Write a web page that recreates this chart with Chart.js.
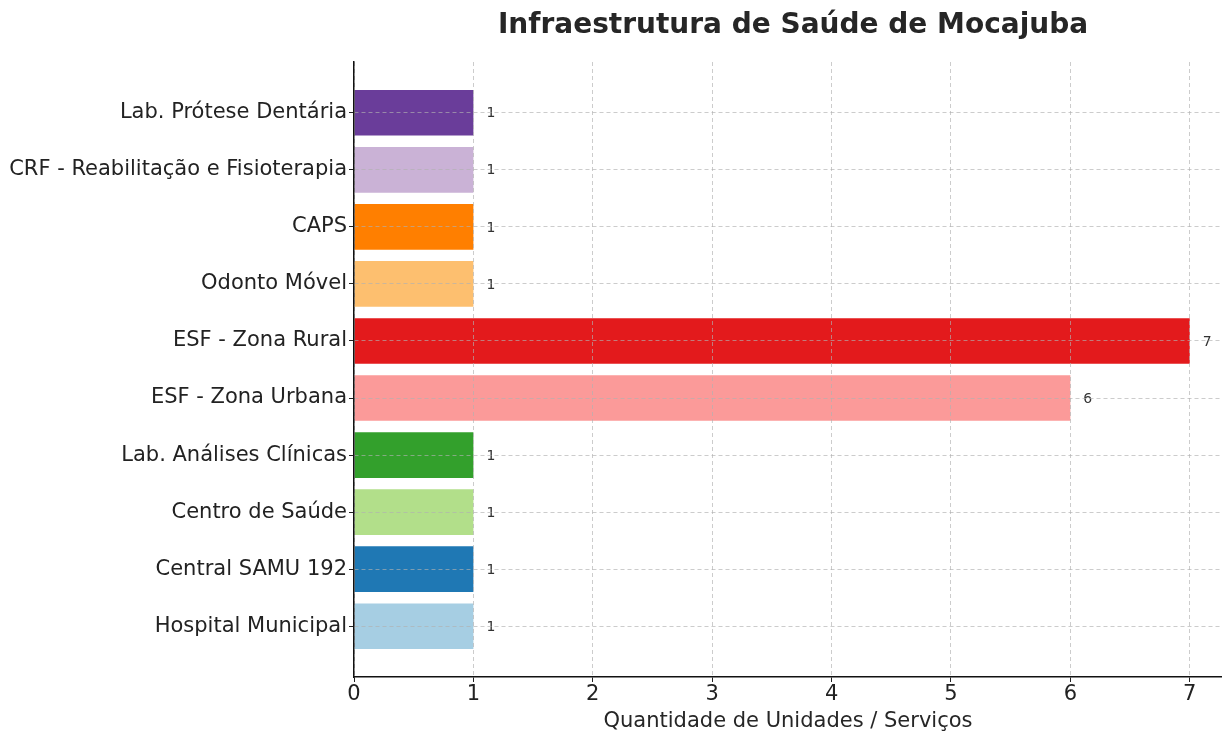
<!DOCTYPE html>
<html lang="pt">
<head>
  <meta charset="UTF-8" />
  <title>Infraestrutura de Saúde de Mocajuba</title>
  <script src="https://cdn.jsdelivr.net/npm/chart.js"></script>
  <style>
    body { margin: 0; background: #fff; }
    #wrap { width: 1222px; height: 731px; }
  </style>
</head>
<body>
<div id="wrap"><canvas id="barChart" width="1222" height="731"></canvas></div>
<script>
// dados (de cima para baixo)
const categories = [
  "Lab. Prótese Dentária",
  "CRF - Reabilitação e Fisioterapia",
  "CAPS",
  "Odonto Móvel",
  "ESF - Zona Rural",
  "ESF - Zona Urbana",
  "Lab. Análises Clínicas",
  "Centro de Saúde",
  "Central SAMU 192",
  "Hospital Municipal"
];
const values = [1, 1, 1, 1, 7, 6, 1, 1, 1, 1];
const barColors = ["#6a3d9a", "#cab2d6", "#ff7f00", "#fdbf6f", "#e31a1c", "#fb9a99", "#33a02c", "#b2df8a", "#1f78b4", "#a6cee3"];
const xTicks = [0, 1, 2, 3, 4, 5, 6, 7];
const chartTitle = "Infraestrutura de Saúde de Mocajuba";

const FONT = "'DejaVu Sans', sans-serif";
const gridColor = "rgba(176,176,176,0.65)";

// titulo centrado sobre a area do grafico + numero ao lado de cada barra
const extras = {
  id: "extras",
  afterDatasetsDraw(chart) {
    const ctx = chart.ctx;
    const meta = chart.getDatasetMeta(0);
    ctx.save();
    ctx.font = "14px " + FONT;
    ctx.fillStyle = "#333";
    ctx.textAlign = "left";
    ctx.textBaseline = "middle";
    meta.data.forEach((bar, i) => {
      ctx.fillText(String(values[i]), bar.x + 13, bar.y + 1);
    });
    ctx.restore();
  },
  afterDraw(chart) {
    const ctx = chart.ctx;
    const area = chart.chartArea;
    ctx.save();
    ctx.font = "bold 28px " + FONT;
    ctx.fillStyle = "#262626";
    ctx.textAlign = "center";
    ctx.textBaseline = "middle";
    ctx.fillText(chartTitle, (area.left + 1232) / 2, 26);
    ctx.restore();
  }
};

new Chart(document.getElementById("barChart"), {
  type: "bar",
  data: {
    datasets: [{
      data: values.map((v, i) => ({ x: v, y: i })),
      backgroundColor: barColors,
      borderWidth: 0,
      barPercentage: 0.8,
      categoryPercentage: 1
    }]
  },
  options: {
    indexAxis: "y",
    responsive: false,
    animation: false,
    layout: { padding: { top: 62, left: 0, right: 0, bottom: 0 } },
    plugins: {
      legend: { display: false },
      tooltip: { enabled: false },
      title: { display: false }
    },
    scales: {
      x: {
        type: "linear",
        min: 0,
        max: 7.27,
        afterBuildTicks: s => { s.ticks = xTicks.map(v => ({ value: v })); },
        afterFit: s => { s.height = 54; },
        ticks: { color: "#222", font: { family: FONT, size: 21 }, padding: 0, maxRotation: 0 },
        grid: { color: gridColor, lineWidth: 1, tickColor: "#222", tickLength: 5, tickBorderDash: [], z: 1 },
        border: { display: true, color: "#111", width: 1.5, dash: [4, 3], z: 2 },
        title: {
          display: true,
          text: "Quantidade de Unidades / Serviços",
          color: "#262626",
          font: { family: FONT, size: 21 },
          padding: { top: 0, bottom: -3 }
        }
      },
      y: {
        type: "linear",
        reverse: true,
        offset: false,
        min: -0.89,
        max: 9.89,
        afterBuildTicks: s => { s.ticks = categories.map((c, i) => ({ value: i })); },
        afterFit: s => { s.width = 354; },
        ticks: {
          color: "#222",
          font: { family: FONT, size: 21 },
          padding: 2,
          callback: v => categories[v]
        },
        grid: { offset: false, color: gridColor, lineWidth: 1, tickColor: "#222", tickLength: 5, tickBorderDash: [], z: 1 },
        border: { display: true, color: "#111", width: 1.5, dash: [4, 3], z: 2 }
      }
    }
  },
  plugins: [extras]
});
</script>
</body>
</html>
